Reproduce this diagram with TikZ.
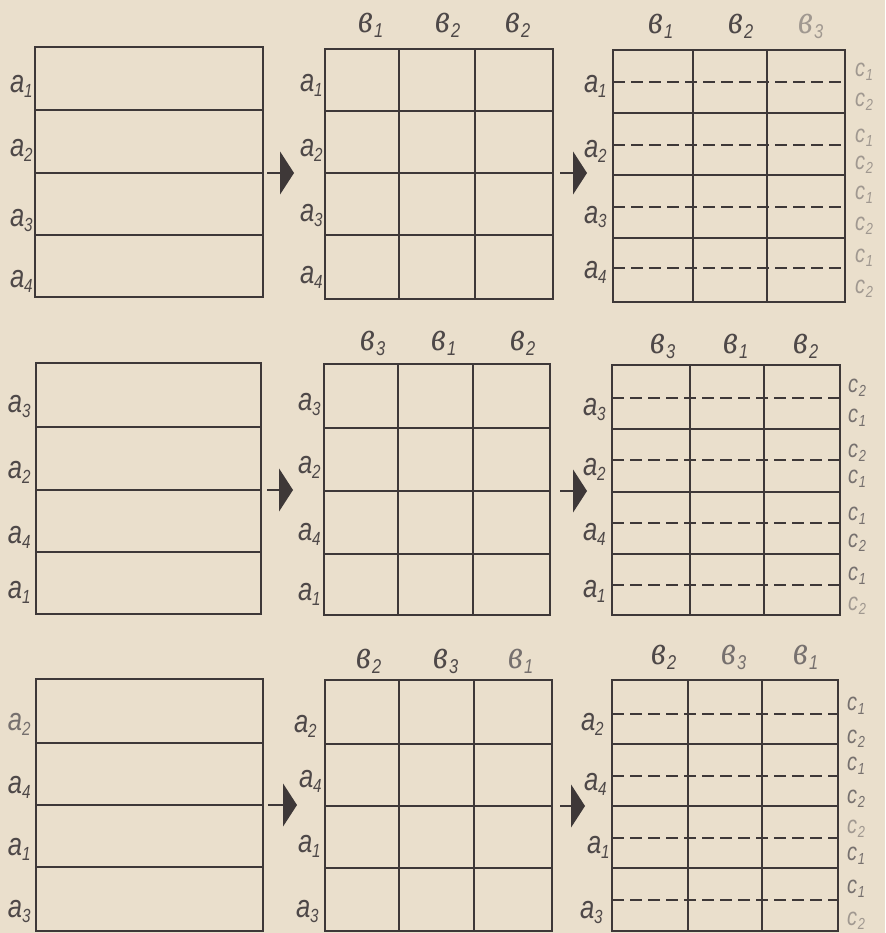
\documentclass[tikz,border=0pt]{standalone}
\usepackage{fontspec}
\usepackage{graphicx}
\setmainfont{Liberation Sans}
\newfontfamily\cyrfont{Liberation Serif}
\usetikzlibrary{arrows.meta}
\definecolor{paper}{RGB}{234,223,204}
\definecolor{ink}{RGB}{62,56,56}
\definecolor{txt}{RGB}{78,72,72}
\definecolor{fade}{RGB}{160,152,144}
\definecolor{midfade}{RGB}{118,112,110}
\newcommand\La[1]{\scalebox{0.8}[1]{\fontsize{32}{34}\selectfont\itshape a\raisebox{-5pt}{\fontsize{19}{20}\selectfont #1}}}
\newcommand\Lb[1]{\scalebox{0.82}[1]{\fontsize{41}{43}\selectfont\cyrfont\itshape в\kern2pt\raisebox{-5pt}{\fontsize{20}{21}\selectfont\normalfont\itshape #1}}}
\newcommand\Lc[1]{\scalebox{0.8}[1]{\fontsize{25}{26}\selectfont\itshape c\kern1pt\raisebox{-4pt}{\fontsize{16}{17}\selectfont #1}}}
\begin{document}
\begin{tikzpicture}[x=1pt,y=-1pt,
  frame/.style={draw=ink,line width=2.1pt},
  inner/.style={draw=ink,line width=1.7pt},
  dashln/.style={draw=ink,line width=1.5pt,dash pattern=on 12pt off 6pt},
  lab/.style={inner sep=0pt,outer sep=0pt,anchor=base west,text=txt},
  arr/.style={draw=ink,fill=ink,line width=1.4pt,-{Triangle[length=14pt,width=43pt]}}]
\fill[paper] (0,0) rectangle (885,933);
\useasboundingbox (0,0) rectangle (885,933);
% ---------- Row 1 ----------
\draw[frame] (35,47) rectangle (263,297);
\foreach \h in {110,173,235} \draw[inner] (35,\h) -- (263,\h);
\draw[frame] (325,49) rectangle (553,299);
\foreach \h in {111,173,235} \draw[inner] (325,\h) -- (553,\h);
\foreach \v in {399,475} \draw[inner] (\v,49) -- (\v,299);
\draw[frame] (613,50) rectangle (845,302);
\foreach \h in {113,175,238} \draw[inner] (613,\h) -- (845,\h);
\foreach \v in {693,767} \draw[inner] (\v,50) -- (\v,302);
\foreach \h in {82,145,207,268} \draw[dashln] (613,\h) -- (845,\h);
% ---------- Row 2 ----------
\draw[frame] (36,363) rectangle (261,614);
\foreach \h in {427,490,552} \draw[inner] (36,\h) -- (261,\h);
\draw[frame] (324,364) rectangle (550,615);
\foreach \h in {428,491,554} \draw[inner] (324,\h) -- (550,\h);
\foreach \v in {398,473} \draw[inner] (\v,364) -- (\v,615);
\draw[frame] (612,365) rectangle (840,615);
\foreach \h in {429,492,554} \draw[inner] (612,\h) -- (840,\h);
\foreach \v in {690,764} \draw[inner] (\v,365) -- (\v,615);
\foreach \h in {398,460,523,585} \draw[dashln] (612,\h) -- (840,\h);
% ---------- Row 3 ----------
\draw[frame] (36,679) rectangle (263,931);
\foreach \h in {743,805,867} \draw[inner] (36,\h) -- (263,\h);
\draw[frame] (325,680) rectangle (552,931);
\foreach \h in {744,806,868} \draw[inner] (325,\h) -- (552,\h);
\foreach \v in {399,474} \draw[inner] (\v,680) -- (\v,931);
\draw[frame] (612,680) rectangle (838,931);
\foreach \h in {744,806,868} \draw[inner] (612,\h) -- (838,\h);
\foreach \v in {688,762} \draw[inner] (\v,680) -- (\v,931);
\foreach \h in {714,776,838,900} \draw[dashln] (612,\h) -- (838,\h);
% ---------- Arrows ----------
\coordinate (p1s) at (267,173); \coordinate (p1e) at (294,173);
\coordinate (p2s) at (560,173); \coordinate (p2e) at (587,173);
\coordinate (p3s) at (267,490); \coordinate (p3e) at (293,490);
\coordinate (p4s) at (560,491); \coordinate (p4e) at (587,491);
\coordinate (p5s) at (268,805); \coordinate (p5e) at (297,805);
\coordinate (p6s) at (560,806); \coordinate (p6e) at (585,806);
\draw[arr] (p1s) -- (p1e);
\draw[arr] (p2s) -- (p2e);
\draw[arr] (p3s) -- (p3e);
\draw[arr] (p4s) -- (p4e);
\draw[arr] (p5s) -- (p5e);
\draw[arr] (p6s) -- (p6e);
% ---------- Row 1 labels ----------
\node[lab] (r1g1a1) at (10,93) {\La1};
\node[lab] (r1g1a2) at (10,157) {\La2};
\node[lab] (r1g1a3) at (10,226) {\La3};
\node[lab] (r1g1a4) at (10,287) {\La4};
\node[lab] (r1g2a1) at (300,92) {\La1};
\node[lab] (r1g2a2) at (300,157) {\La2};
\node[lab] (r1g2a3) at (300,222) {\La3};
\node[lab] (r1g2a4) at (300,283) {\La4};
\node[lab] (r1g2b1) at (358,33) {\Lb1};
\node[lab] (r1g2b2) at (435,33) {\Lb2};
\node[lab] (r1g2b3) at (505,33) {\Lb2};
\node[lab] (r1g3a1) at (584,93) {\La1};
\node[lab] (r1g3a2) at (584,158) {\La2};
\node[lab] (r1g3a3) at (584,223) {\La3};
\node[lab] (r1g3a4) at (584,278) {\La4};
\node[lab] (r1g3b1) at (648,34) {\Lb1};
\node[lab] (r1g3b2) at (728,34) {\Lb2};
\node[lab,text=fade] (r1g3b3) at (798,34) {\Lb3};
\node[lab,text=fade] (r1c1) at (855,77) {\Lc1};
\node[lab,text=fade] (r1c2) at (855,107) {\Lc2};
\node[lab,text=fade] (r1c3) at (855,143) {\Lc1};
\node[lab,text=fade] (r1c4) at (855,170) {\Lc2};
\node[lab,text=fade] (r1c5) at (855,200) {\Lc1};
\node[lab,text=fade] (r1c6) at (855,230) {\Lc2};
\node[lab,text=fade] (r1c7) at (855,262) {\Lc1};
\node[lab,text=fade] (r1c8) at (855,293) {\Lc2};
% ---------- Row 2 labels ----------
\node[lab] (r2g1a1) at (8,412) {\La3};
\node[lab] (r2g1a2) at (8,478) {\La2};
\node[lab] (r2g1a3) at (8,543) {\La4};
\node[lab] (r2g1a4) at (8,598) {\La1};
\node[lab] (r2g2a1) at (298,410) {\La3};
\node[lab] (r2g2a2) at (298,473) {\La2};
\node[lab] (r2g2a3) at (298,540) {\La4};
\node[lab] (r2g2a4) at (298,600) {\La1};
\node[lab] (r2g2b1) at (360,350) {\Lb3};
\node[lab] (r2g2b2) at (431,350) {\Lb1};
\node[lab] (r2g2b3) at (510,350) {\Lb2};
\node[lab] (r2g3a1) at (583,415) {\La3};
\node[lab] (r2g3a2) at (583,475) {\La2};
\node[lab] (r2g3a3) at (583,540) {\La4};
\node[lab] (r2g3a4) at (583,597) {\La1};
\node[lab] (r2g3b1) at (650,353) {\Lb3};
\node[lab] (r2g3b2) at (723,353) {\Lb1};
\node[lab] (r2g3b3) at (793,353) {\Lb2};
\node[lab,text=midfade] (r2c1) at (848,392) {\Lc2};
\node[lab,text=midfade] (r2c2) at (848,422) {\Lc1};
\node[lab,text=midfade] (r2c3) at (848,457) {\Lc2};
\node[lab,text=midfade] (r2c4) at (848,483) {\Lc1};
\node[lab,text=midfade] (r2c5) at (848,520) {\Lc1};
\node[lab,text=midfade] (r2c6) at (848,547) {\Lc2};
\node[lab,text=midfade] (r2c7) at (848,580) {\Lc1};
\node[lab,text=fade] (r2c8) at (848,610) {\Lc2};
% ---------- Row 3 labels ----------
\node[lab,text=midfade] (r3g1a1) at (8,730) {\La2};
\node[lab] (r3g1a2) at (8,793) {\La4};
\node[lab] (r3g1a3) at (8,855) {\La1};
\node[lab] (r3g1a4) at (8,917) {\La3};
\node[lab] (r3g2a1) at (294,732) {\La2};
\node[lab] (r3g2a2) at (299,787) {\La4};
\node[lab] (r3g2a3) at (298,852) {\La1};
\node[lab] (r3g2a4) at (296,917) {\La3};
\node[lab] (r3g2b1) at (356,668) {\Lb2};
\node[lab] (r3g2b2) at (433,668) {\Lb3};
\node[lab,text=midfade] (r3g2b3) at (508,668) {\Lb1};
\node[lab] (r3g3a1) at (581,730) {\La2};
\node[lab] (r3g3a2) at (584,790) {\La4};
\node[lab] (r3g3a3) at (587,853) {\La1};
\node[lab] (r3g3a4) at (580,918) {\La3};
\node[lab] (r3g3b1) at (651,664) {\Lb2};
\node[lab,text=midfade] (r3g3b2) at (721,664) {\Lb3};
\node[lab,text=midfade] (r3g3b3) at (793,664) {\Lb1};
\node[lab,text=midfade] (r3c1) at (847,710) {\Lc1};
\node[lab,text=midfade] (r3c2) at (847,743) {\Lc2};
\node[lab,text=midfade] (r3c3) at (847,770) {\Lc1};
\node[lab,text=midfade] (r3c4) at (847,803) {\Lc2};
\node[lab,text=fade] (r3c5) at (847,833) {\Lc2};
\node[lab,text=midfade] (r3c6) at (847,860) {\Lc1};
\node[lab,text=midfade] (r3c7) at (847,893) {\Lc1};
\node[lab,text=fade] (r3c8) at (847,925) {\Lc2};
\end{tikzpicture}
\end{document}
